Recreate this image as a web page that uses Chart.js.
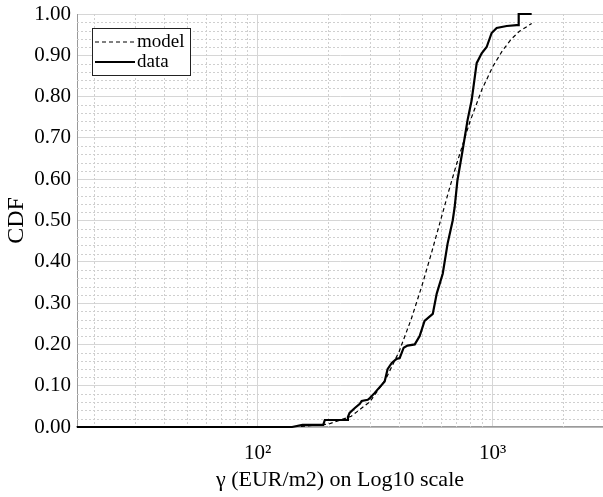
<!DOCTYPE html>
<html lang="en">

<head>
    <meta charset="UTF-8">
    <title>CDF</title>
    <style>
        body {
            margin: 0;
            background: #fff;
        }

        #wrap {
            width: 603px;
            height: 497px;
        }
    </style>
</head>

<body>
    <div id="wrap"><canvas id="myChart" width="603" height="497"></canvas></div>

    <script src="https://cdn.jsdelivr.net/npm/chart.js"></script>
    <script>
        // empirical CDF (step-like) read per point
        var dataX = [17, 140, 155, 190, 193, 240, 242, 246, 259, 272,
            277, 294, 300, 314, 347, 357, 372, 390, 402, 418,
            434, 466, 489, 513, 556, 578, 613, 643, 676, 689,
            708, 745, 782, 814, 855, 898, 943, 990, 1040, 1148,
            1265, 1291, 1291, 1466];
        var dataY = [0, 0, 0.005, 0.005, 0.017, 0.017, 0.024, 0.034, 0.046, 0.056,
            0.063, 0.066, 0.07, 0.082, 0.11, 0.14, 0.155, 0.165, 0.167, 0.192,
            0.197, 0.2, 0.22, 0.257, 0.274, 0.323, 0.371, 0.444, 0.5, 0.532,
            0.597, 0.67, 0.743, 0.791, 0.881, 0.905, 0.92, 0.954, 0.966, 0.971,
            0.973, 0.973, 1.0, 1.0];

        // fitted model curve
        var modelX = [17, 150, 200, 250, 300, 350, 400, 450, 500, 550,
            600, 650, 700, 800, 900, 1000, 1100, 1200, 1300, 1466];
        var modelY = [0, 0.001, 0.007, 0.026, 0.061, 0.115, 0.183, 0.261, 0.342, 0.423,
            0.5, 0.571, 0.634, 0.739, 0.817, 0.872, 0.911, 0.939, 0.958, 0.977];

        var xTicks = [20, 30, 40, 50, 60, 70, 80, 90, 100, 200, 300, 400, 500, 600, 700, 800, 900, 1000, 2000];
        var xLabels = { 100: '10²', 1000: '10³' };

        var serif = "'Liberation Serif', 'Times New Roman', serif";

        function toPoints(xs, ys) {
            return xs.map(function (x, i) { return { x: x, y: ys[i] }; });
        }

        function isMajorY(v) {
            return Math.round(v * 50) % 5 === 0;
        }

        // dotted minor grid lines
        var minorGrid = {
            id: 'minorGrid',
            beforeDatasetsDraw: function (chart) {
                var ctx = chart.ctx, a = chart.chartArea;
                var xs = chart.scales.x, ys = chart.scales.y;
                ctx.save();
                ctx.strokeStyle = '#cfcfcf';
                ctx.lineWidth = 1;
                ctx.setLineDash([2, 2]);
                xTicks.forEach(function (v) {
                    if (xLabels[v]) return;
                    var px = Math.round(xs.getPixelForValue(v)) + 0.5;
                    ctx.beginPath();
                    ctx.moveTo(px, a.top);
                    ctx.lineTo(px, a.bottom);
                    ctx.stroke();
                });
                for (var i = 1; i < 50; i++) {
                    var v = i / 50;
                    if (isMajorY(v)) continue;
                    var py = Math.round(ys.getPixelForValue(v)) + 0.5;
                    ctx.beginPath();
                    ctx.moveTo(a.left, py);
                    ctx.lineTo(a.right, py);
                    ctx.stroke();
                }
                ctx.restore();
            }
        };

        // boxed legend in the upper left corner
        var boxLegend = {
            id: 'boxLegend',
            afterDraw: function (chart) {
                var ctx = chart.ctx;
                var x0 = 92, y0 = 28, w = 98, h = 47;
                ctx.save();
                ctx.fillStyle = '#fff';
                ctx.fillRect(x0, y0, w, h);
                ctx.strokeStyle = '#222';
                ctx.lineWidth = 1;
                ctx.strokeRect(x0 + 0.5, y0 + 0.5, w, h);
                chart.data.datasets.forEach(function (ds, i) {
                    var y = y0 + 14 + i * 20;
                    ctx.strokeStyle = ds.borderColor;
                    ctx.lineWidth = ds.borderWidth;
                    ctx.setLineDash(ds.borderDash || []);
                    ctx.beginPath();
                    ctx.moveTo(x0 + 3, y);
                    ctx.lineTo(x0 + 43, y);
                    ctx.stroke();
                    ctx.fillStyle = '#000';
                    ctx.font = '19px ' + serif;
                    ctx.textBaseline = 'middle';
                    ctx.fillText(ds.label, x0 + 45, y);
                });
                ctx.restore();
            }
        };

        var ctx = document.getElementById('myChart').getContext('2d');
        var myChart = new Chart(ctx, {
            type: 'scatter',
            data: {
                datasets: [{
                    label: 'model',
                    data: toPoints(modelX, modelY),
                    showLine: true,
                    borderColor: '#000',
                    borderWidth: 1.2,
                    borderDash: [4, 3],
                    pointRadius: 0,
                    tension: 0
                }, {
                    label: 'data',
                    data: toPoints(dataX, dataY),
                    showLine: true,
                    borderColor: '#000',
                    borderWidth: 2.2,
                    pointRadius: 0,
                    tension: 0,
                    clip: 3
                }]
            },
            options: {
                responsive: false,
                animation: false,
                layout: { padding: { top: 14, right: 0, left: 0, bottom: 0 } },
                plugins: {
                    legend: { display: false },
                    tooltip: { enabled: false }
                },
                scales: {
                    x: {
                        type: 'logarithmic',
                        min: 17,
                        max: 2950,
                        afterBuildTicks: function (scale) {
                            scale.ticks = xTicks.map(function (v) { return { value: v }; });
                        },
                        afterFit: function (scale) { scale.height = 70; },
                        ticks: {
                            autoSkip: false,
                            maxRotation: 0,
                            padding: 14,
                            color: '#000',
                            font: { family: serif, size: 21 },
                            callback: function (v) { return xLabels[v] || ''; }
                        },
                        grid: {
                            drawTicks: false,
                            color: function (c) {
                                return c.tick && xLabels[c.tick.value] ? '#d6d6d6' : 'rgba(0,0,0,0)';
                            }
                        },
                        border: { color: '#9a9a9a', width: 1.5 },
                        title: {
                            display: true,
                            text: 'γ (EUR/m2) on Log10 scale',
                            color: '#000',
                            font: { family: serif, size: 22 },
                            padding: { top: 0, bottom: 4 }
                        }
                    },
                    y: {
                        min: 0,
                        max: 1,
                        afterFit: function (scale) {
                            scale.width = 77;
                            scale.paddingTop = 0;
                            scale.paddingBottom = 0;
                        },
                        ticks: {
                            stepSize: 0.02,
                            autoSkip: false,
                            padding: 6,
                            color: '#000',
                            font: { family: serif, size: 21 },
                            callback: function (v) { return isMajorY(v) ? v.toFixed(2) : ''; }
                        },
                        grid: {
                            drawTicks: false,
                            color: function (c) {
                                return c.tick && isMajorY(c.tick.value) ? '#d6d6d6' : 'rgba(0,0,0,0)';
                            }
                        },
                        border: { color: '#9a9a9a', width: 1 },
                        title: {
                            display: true,
                            text: 'CDF',
                            color: '#000',
                            font: { family: serif, size: 24 },
                            padding: { top: 2, bottom: 0 }
                        }
                    }
                }
            },
            plugins: [minorGrid, boxLegend]
        });
    </script>
</body>

</html>
